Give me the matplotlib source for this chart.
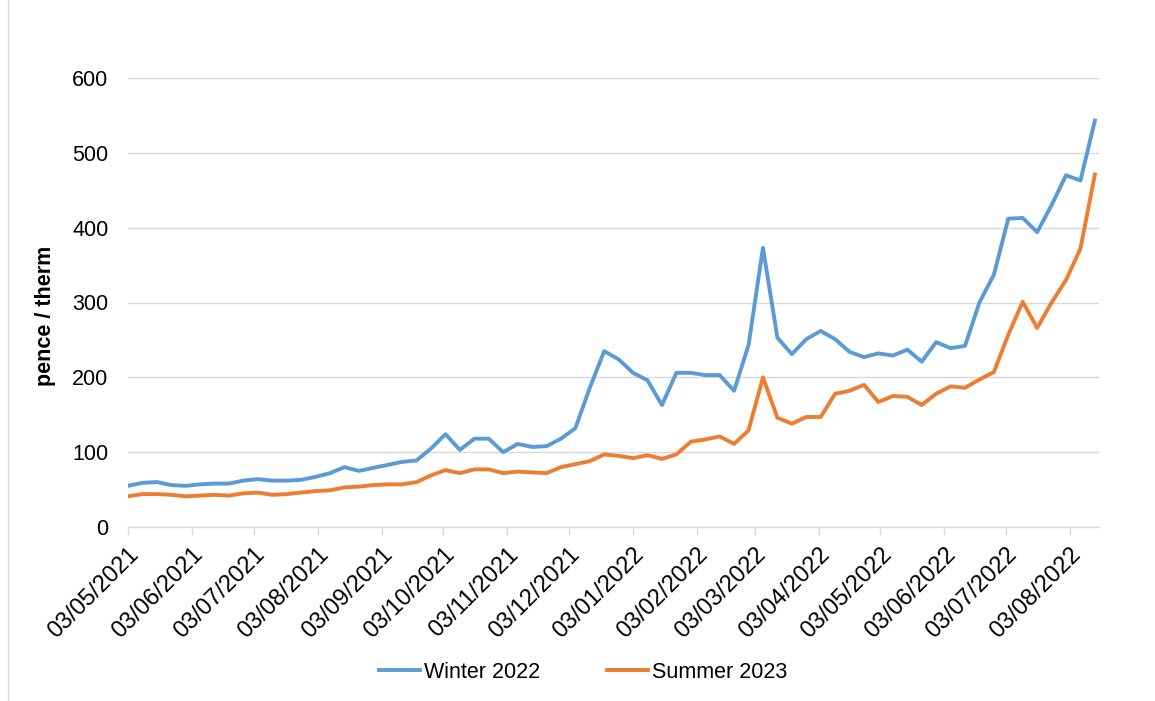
import matplotlib
matplotlib.use("Agg")
import matplotlib.pyplot as plt
import matplotlib.dates as mdates
from matplotlib.lines import Line2D
import numpy as np
import pandas as pd

start_date = "2021-05-03"
n_weeks = 68
dates = pd.date_range(start_date, periods=n_weeks, freq="7D")

winter_2022 = [55, 59, 60, 56, 55, 57, 58, 58, 62, 64, 62, 62, 63, 67, 72, 80, 75, 79, 83, 87,
               89, 105, 124, 103, 118, 118, 100, 111, 107, 108, 118, 132, 186, 235, 224, 206, 196, 163, 206, 206,
               203, 203, 182, 243, 373, 253, 231, 251, 262, 251, 234, 227, 232, 229, 237, 221, 247, 239, 242, 300,
               337, 412, 413, 394, 430, 470, 463, 543]
summer_2023 = [41, 44, 44, 43, 41, 42, 43, 42, 45, 46, 43, 44, 46, 48, 49, 53, 54, 56, 57, 57,
               60, 69, 76, 72, 77, 77, 72, 74, 73, 72, 80, 84, 88, 97, 95, 92, 96, 91, 97, 114,
               117, 121, 111, 129, 200, 146, 138, 147, 147, 178, 182, 190, 167, 175, 174, 163, 178, 188, 186, 197,
               207, 257, 301, 266, 300, 330, 372, 471]
series_names = ["Winter 2022", "Summer 2023"]
y_ticks = [0, 100, 200, 300, 400, 500, 600]

W, H = 1155, 701
fig = plt.figure(figsize=(W / 100, H / 100), dpi=100)
plt.rcParams['font.family'] = ['Liberation Sans', 'DejaVu Sans']

left_px, right_px, top_px, bottom_px = 128, 1099, 78, 527
ax = fig.add_axes([left_px / W, 1 - bottom_px / H, (right_px - left_px) / W, (bottom_px - top_px) / H])

blue = "#5B9BD5"
orange = "#ED7D31"
ax.plot(dates, winter_2022, color=blue, lw=2.8, label=series_names[0], solid_joinstyle="round", zorder=3)
ax.plot(dates, summer_2023, color=orange, lw=2.8, label=series_names[1], solid_joinstyle="round", zorder=3)

x0 = pd.Timestamp(start_date)
ax.set_xlim(x0, x0 + pd.Timedelta(days=471))
ax.set_ylim(0, 600)
ax.set_yticks(y_ticks)
ax.yaxis.grid(True, color="#D9D9D9", lw=1.0)
ax.set_axisbelow(True)

ax.xaxis.set_major_locator(mdates.MonthLocator(bymonthday=3))
ax.xaxis.set_major_formatter(mdates.DateFormatter("%d/%m/%Y"))

for s in ["top", "right", "left"]:
    ax.spines[s].set_visible(False)
ax.spines["bottom"].set_color("#D9D9D9")
ax.spines["bottom"].set_linewidth(1.0)

ax.tick_params(axis="y", length=0, pad=14, labelsize=15.5, labelcolor="black")
ax.tick_params(axis="x", length=6, width=1.0, color="#D9D9D9", pad=6, labelsize=17, labelcolor="black")
for lbl in ax.get_xticklabels():
    lbl.set_rotation(45)
    lbl.set_ha("right")
    lbl.set_va("top")
    lbl.set_rotation_mode("anchor")

fig.text(45 / W, 1 - 316 / H, "pence / therm", rotation=90, ha="center", va="center",
         fontsize=15.5, fontweight="bold")

fig.legend(loc="center", bbox_to_anchor=(583 / W, 1 - 672 / H), ncol=2, frameon=False,
           fontsize=15.5, handlelength=1.9, handletextpad=0.2, columnspacing=3.1)

fig.add_artist(Line2D([8 / W, 8 / W], [0, 1], transform=fig.transFigure, color="#D9D9D9", lw=1.0))

fig.savefig("out.png", dpi=100, facecolor="white")
